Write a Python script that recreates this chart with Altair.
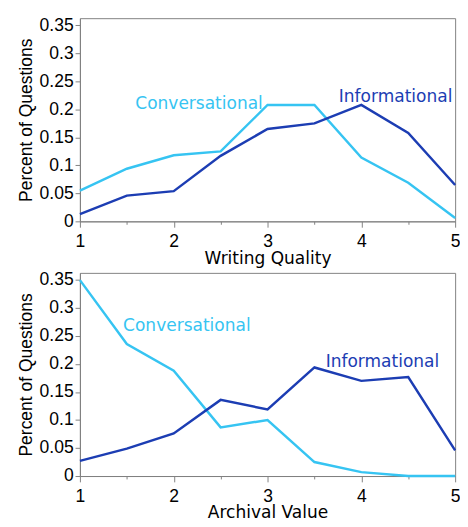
import altair as alt
import pandas as pd

x_vals = [1, 1.5, 2, 2.5, 3, 3.5, 4, 4.5, 5]
wq_conv = [0.055, 0.094, 0.118, 0.125, 0.208, 0.208, 0.114, 0.069, 0.006]
wq_info = [0.013, 0.046, 0.054, 0.117, 0.165, 0.175, 0.208, 0.158, 0.065]
av_conv = [0.350, 0.236, 0.188, 0.087, 0.100, 0.025, 0.007, 0.0, 0.0]
av_info = [0.027, 0.049, 0.076, 0.136, 0.119, 0.194, 0.170, 0.177, 0.046]

series = ["Conversational", "Informational"]
colors = ["#36C4F2", "#1C3DB3"]

# label anchors (data units): [x, y] per panel per series
wq_label_x = [1.59, 3.76]
wq_label_y = [0.2095, 0.2225]
av_label_x = [1.46, 3.62]
av_label_y = [0.2676, 0.204]

y_ticks = [0, 0.05, 0.1, 0.15, 0.2, 0.25, 0.3, 0.35]

TICK_FONT = "Liberation Sans"
TITLE_FONT = "DejaVu Sans"


def panel(conv, info, lx, ly, xtitle):
    df = pd.DataFrame({
        "x": x_vals * 2,
        "y": conv + info,
        "s": [series[0]] * len(x_vals) + [series[1]] * len(x_vals),
    })
    ldf = pd.DataFrame({"x": lx, "y": ly, "s": series})
    xs = alt.Scale(domain=[1, 5], nice=False, zero=False)
    ys = alt.Scale(domain=[0, 0.363], nice=False)
    x_enc = alt.X("x:Q", scale=xs, title=xtitle,
                  axis=alt.Axis(values=x_vals, format="~g",
                                labelExpr="datum.value % 1 == 0 ? datum.label : ''",
                                tickSize={"condition": {"test": "datum.value % 1 == 0", "value": 6},
                                          "value": 3}))
    y_enc = alt.Y("y:Q", scale=ys, title="Percent of Questions",
                  axis=alt.Axis(values=y_ticks, format="~g"))
    color = alt.Color("s:N", scale=alt.Scale(domain=series, range=colors), legend=None)
    lines = alt.Chart(df).mark_line(strokeWidth=2.5).encode(
        x=x_enc, y=y_enc, color=color, detail="s:N",
    )
    labels = alt.Chart(ldf).mark_text(align="left", baseline="middle",
                                      font=TITLE_FONT, fontSize=17.5).encode(
        x=x_enc, y=y_enc, text="s:N", color=color,
    )
    return (lines + labels).properties(width=386, height=209)


top = panel(wq_conv, wq_info, wq_label_x, wq_label_y, "Writing Quality")
bottom = panel(av_conv, av_info, av_label_x, av_label_y, "Archival Value")

chart = (
    alt.vconcat(top, bottom, spacing=3)
    .properties(padding={"left": 9, "top": 0, "right": -1, "bottom": 0})
    .configure_view(stroke="#808080", strokeWidth=1)
    .configure_axis(
        grid=False, labelFlush=False, labelOverlap=False,
        labelFont=TICK_FONT, labelFontSize=18, labelColor="#000",
        titleFontWeight="normal", titleColor="#000",
        domainColor="#808080", tickColor="#808080",
    )
    .configure_axisX(labelPadding=6, titlePadding=-1,
                     titleFont=TITLE_FONT, titleFontSize=17.5)
    .configure_axisY(tickSize=5, labelPadding=2, titlePadding=4,
                     titleFont=TICK_FONT, titleFontSize=18)
)

chart.save("out.html", embed_options={"renderer": "svg", "actions": False})
